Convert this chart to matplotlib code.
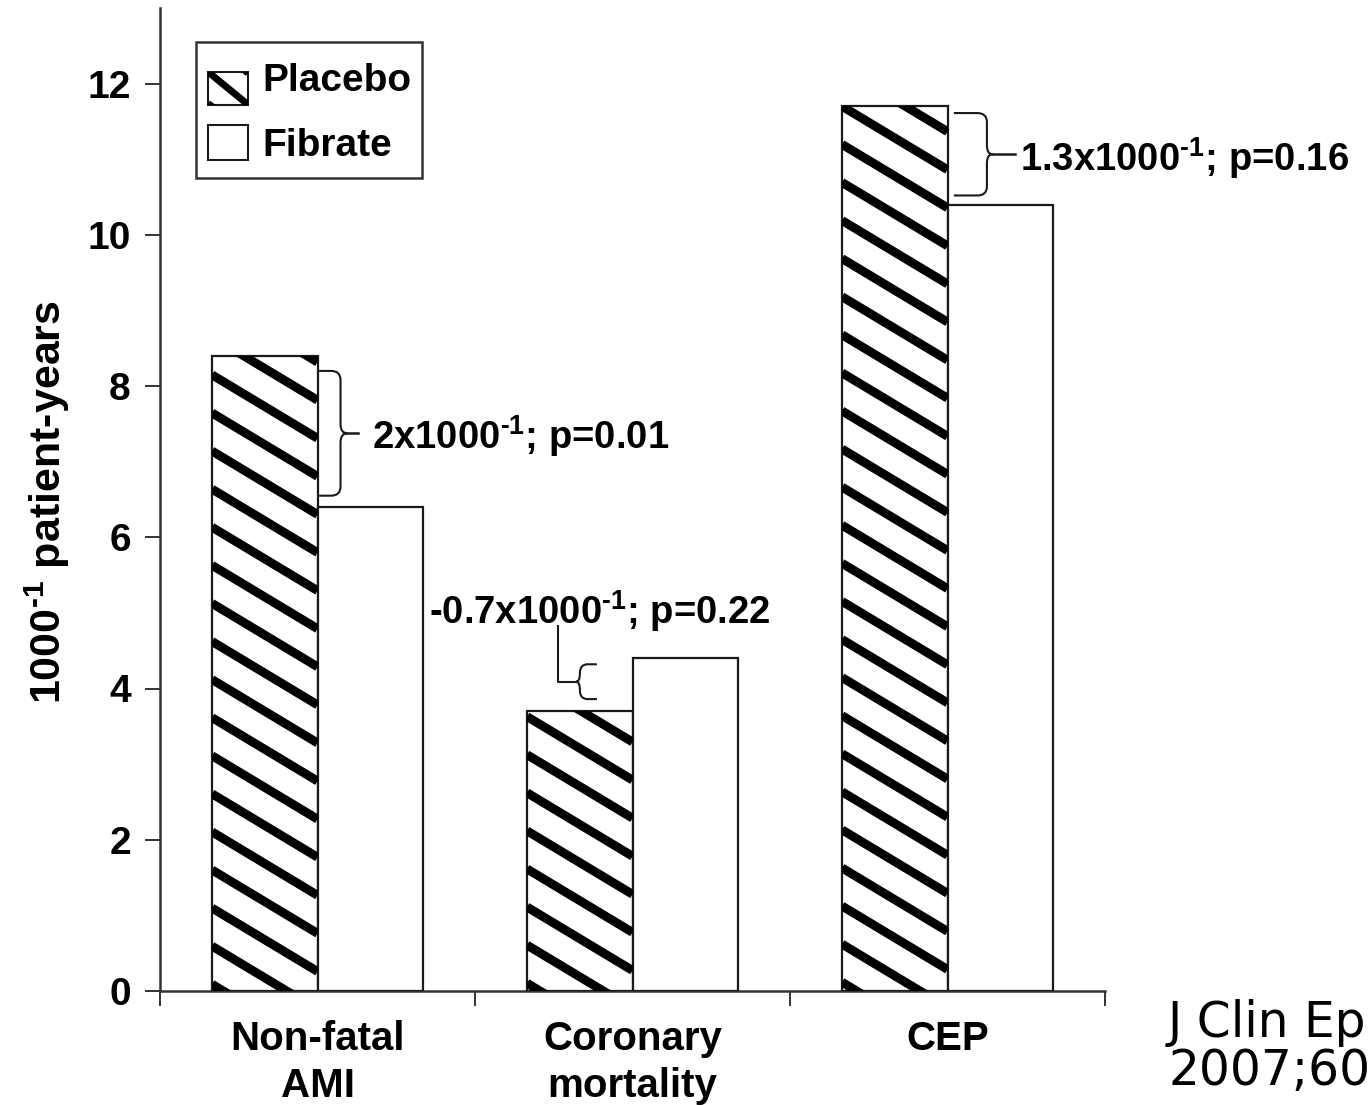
import numpy as np
import matplotlib
matplotlib.use("Agg")
import matplotlib.pyplot as plt
from matplotlib.path import Path
from matplotlib.patches import PathPatch, Rectangle

# ---- data ----
categories = ["Non-fatal\nAMI", "Coronary\nmortality", "CEP"]
series_names = ["Placebo", "Fibrate"]
placebo = [8.4, 3.7, 11.7]
fibrate = [6.4, 4.4, 10.4]
diff_labels = ["2x1000$^{\\text{-}1}$; p=0.01",
               "-0.7x1000$^{\\text{-}1}$; p=0.22",
               "1.3x1000$^{\\text{-}1}$; p=0.16"]
y_ticks = [0, 2, 4, 6, 8, 10, 12]

plt.rcParams["font.family"] = ["Liberation Sans", "DejaVu Sans"]
plt.rcParams["font.weight"] = "bold"
plt.rcParams["axes.labelweight"] = "bold"
plt.rcParams["mathtext.fontset"] = "custom"
plt.rcParams["mathtext.rm"] = "Liberation Sans:bold"
plt.rcParams["mathtext.default"] = "rm"

FS = 27.5
INK = "#1a1a1a"


def add_hatch(ax, patch, u0, v0, slope, step, lw, transform):
    # diagonal stripes clipped to a patch (slope given in the patch's own coords)
    x0, y0 = patch.get_x(), patch.get_y()
    x1, y1 = x0 + patch.get_width(), y0 + patch.get_height()
    lo = y0 - v0 + slope * (x1 - u0)
    hi = y1 - v0 + slope * (x0 - u0)
    for n in range(int(np.floor(lo / step)) - 1, int(np.ceil(hi / step)) + 2):
        c = v0 + n * step
        xs = np.array([x0, x1])
        ln, = ax.plot(xs, c - slope * (xs - u0), color="black", lw=lw,
                      solid_capstyle="butt", transform=transform, zorder=patch.get_zorder() + 0.1)
        ln.set_clip_path(patch)


def brace(ax, x0, y_top, y_bot, w, tip, side=1, lead=0.0):
    # square-ish curly bracket, arms start at x0, points towards side
    xv = x0 + side * w
    xt = xv + side * tip
    ym = (y_top + y_bot) / 2
    rx = side * min(w * 0.45, 0.03)
    ry = min(0.12, (y_top - y_bot) / 4)
    verts = [(x0, y_top), (xv - rx, y_top), (xv, y_top), (xv, y_top - ry),
             (xv, ym + ry), (xv, ym), (xt, ym),
             (xv, ym), (xv, ym - ry),
             (xv, y_bot + ry), (xv, y_bot), (xv - rx, y_bot), (x0, y_bot)]
    codes = [Path.MOVETO, Path.LINETO, Path.CURVE3, Path.CURVE3,
             Path.LINETO, Path.CURVE3, Path.CURVE3,
             Path.CURVE3, Path.CURVE3,
             Path.LINETO, Path.CURVE3, Path.CURVE3, Path.LINETO]
    ax.add_patch(PathPatch(Path(verts, codes), fill=False, lw=1.5, ec=INK, zorder=5))
    if lead:
        ax.plot([xt, xt + side * lead], [ym, ym], color=INK, lw=1.8, zorder=5)
    return xt, ym


fig = plt.figure(figsize=(13.7, 11.05), dpi=100)
ax = fig.add_axes([0.1168, 0.1032, 0.6898, 0.8896])

x = np.arange(len(categories)) + 0.5
width = 0.335
bars_p = ax.bar(x - width / 2, placebo, width, color="white", edgecolor=INK, lw=1.6, zorder=3)
bars_f = ax.bar(x + width / 2, fibrate, width, color="white", edgecolor=INK, lw=1.6, zorder=3)

ax.set_xlim(0, 3)
ax.set_ylim(0, 13)

# hatch for placebo: one global stripe pattern (px slope ~0.6, 38 px apart)
px_u, px_v = 315.0, 75.45
slope = 0.6 * px_u / px_v
step = 38 / px_v
anchor_u, anchor_v = bars_p[2].get_x(), placebo[2]
for b in bars_p:
    add_hatch(ax, b, anchor_u, anchor_v, slope, step, 6.4, ax.transData)

# axes styling
for s in ["top", "right"]:
    ax.spines[s].set_visible(False)
for s in ["left", "bottom"]:
    ax.spines[s].set_linewidth(1.8)
    ax.spines[s].set_color("#333333")

ax.set_yticks(y_ticks)
ax.tick_params(axis="y", direction="out", length=11, width=1.4, color="#333333",
               pad=10, labelsize=FS + 0.5)
ax.set_xticks([0, 1, 2, 3])
ax.set_xticklabels([])
ax.set_xticks(x, minor=True)
ax.set_xticklabels(categories, minor=True, fontsize=FS + 1.5, linespacing=1.3)
ax.tick_params(axis="x", which="major", direction="out", length=11, width=1.4, color="#333333")
ax.tick_params(axis="x", which="minor", length=0, pad=21)

ax.set_ylabel("1000$^{\\text{-}1}$ patient-years", fontsize=FS + 3.5)
ax.yaxis.set_label_coords(-0.093, 0.497)

# difference brackets
brace(ax, 0.505, 8.2, 6.55, 0.068, 0.022, lead=0.035)
ax.text(0.673, 7.34, diff_labels[0], fontsize=FS, va="center", ha="left")

xt, ym = brace(ax, 1.387, 4.32, 3.86, 0.054, 0.012, side=-1)
ax.plot([xt, 1.263, 1.263], [ym, ym, 4.83], color=INK, lw=1.5, zorder=5)
ax.text(0.855, 5.02, diff_labels[1], fontsize=FS, va="center", ha="left")

brace(ax, 2.52, 11.61, 10.52, 0.105, 0.018, lead=0.07)
ax.text(2.73, 11.02, diff_labels[2], fontsize=FS, va="center", ha="left")

# legend box drawn in axes coords
ax.add_patch(Rectangle((0.038, 0.827), 0.239, 0.138, transform=ax.transAxes,
                       fill=False, ec="#333333", lw=1.8, zorder=6))
sw_p = Rectangle((0.0508, 0.901), 0.0423, 0.034, transform=ax.transAxes,
                 fc="white", ec=INK, lw=1.5, zorder=6)
sw_f = Rectangle((0.0508, 0.845), 0.0423, 0.036, transform=ax.transAxes,
                 fc="white", ec=INK, lw=1.5, zorder=6)
ax.add_patch(sw_p)
ax.add_patch(sw_f)
add_hatch(ax, sw_p, 0.0508, 0.935, 0.82 * 945 / 983, 0.032, 5.0, ax.transAxes)
ax.text(0.108, 0.926, series_names[0], transform=ax.transAxes, fontsize=FS + 0.5,
        va="center", ha="left", zorder=7)
ax.text(0.108, 0.860, series_names[1], transform=ax.transAxes, fontsize=FS + 0.5,
        va="center", ha="left", zorder=7)

fig.text(1168 / 1370, 1 - 999 / 1105, "J Clin Ep\n2007;60", family="DejaVu Sans",
         fontweight="normal", fontsize=35, va="top", ha="left", linespacing=1.0)

fig.savefig("out.png", dpi=100, facecolor="white")
